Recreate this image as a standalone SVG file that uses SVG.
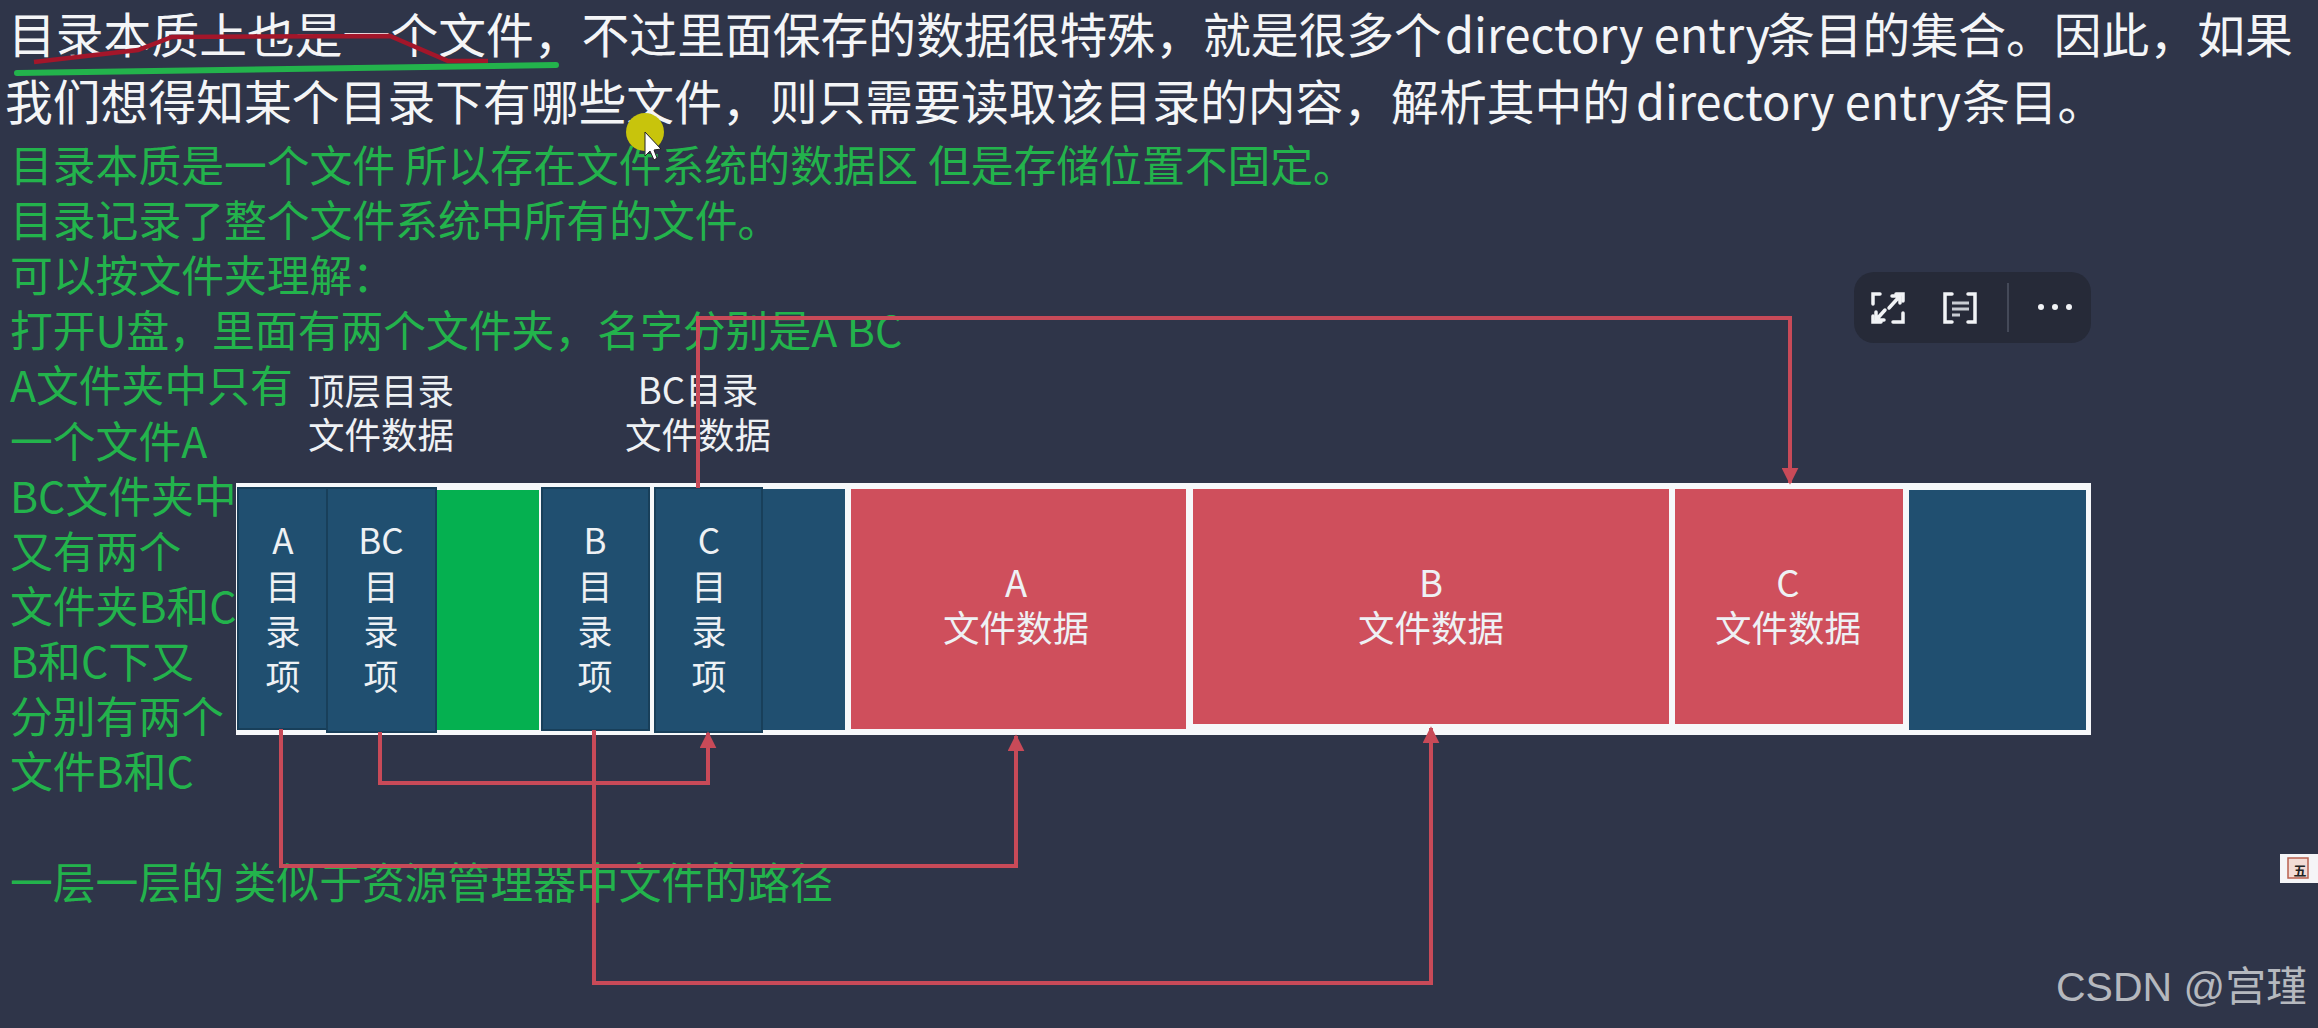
<svg xmlns="http://www.w3.org/2000/svg" width="2318" height="1028" viewBox="0 0 2318 1028">
<style>
text{font-family:"Noto Sans CJK SC","Noto Sans",sans-serif}
.h{fill:#f4f5f7;font-size:47.8px}
.g{fill:#23b34c;font-size:42.8px}
.w{fill:#eef1f4;font-size:36.5px;text-anchor:middle}
.n{fill:#eef1f4;font-size:35px;text-anchor:middle}
.dir{fill:#204f70;stroke:#183f5a;stroke-width:2}
.blue{fill:#204f70}
.red{fill:#cf4f5c}
.c{fill:none;stroke:#c84a58;stroke-width:4}
.tb{fill:none;stroke:#f1f3f6;stroke-width:3.5;stroke-linecap:round}
</style>
<defs>
<marker id="ah" viewBox="0 0 10 10" refX="9" refY="5" markerWidth="17" markerHeight="17" markerUnits="userSpaceOnUse" orient="auto"><path d="M0 0L10 5L0 10Z" fill="#c84a58"/></marker>
</defs>
<rect width="2318" height="1028" fill="#2f3549"/>
<g id="heading">
<text class="h" x="8" y="53">目录本质上也是一个文件，不过里面保存的数据很特殊，就是很多个</text>
<text class="h" x="1445" y="53" textLength="325" lengthAdjust="spacingAndGlyphs">directory entry</text>
<text class="h" x="1767" y="53">条目的集合。因此，如果</text>
<text class="h" x="5" y="120">我们想得知某个目录下有哪些文件，则只需要读取该目录的内容，解析其中的</text>
<text class="h" x="1636" y="120" textLength="325" lengthAdjust="spacingAndGlyphs">directory entry</text>
<text class="h" x="1962" y="120">条目。</text>
</g>
<path d="M34 62L138 50L172 37L390 36L448 61L488 61" fill="none" stroke="#a3162a" stroke-width="4.5"/>
<path d="M17 73L556 65" fill="none" stroke="#23b34c" stroke-width="6" stroke-linecap="round"/>
<g id="green-notes">
<text class="g" x="10" y="182">目录本质是一个文件 所以存在文件系统的数据区 但是存储位置不固定。</text>
<text class="g" x="10" y="237">目录记录了整个文件系统中所有的文件。</text>
<text class="g" x="10" y="292">可以按文件夹理解：</text>
<text class="g" x="10" y="347">打开U盘，里面有两个文件夹，名字分别是A BC</text>
<text class="g" x="10" y="402">A文件夹中只有</text>
<text class="g" x="10" y="458">一个文件A</text>
<text class="g" x="10" y="513">BC文件夹中</text>
<text class="g" x="10" y="568">又有两个</text>
<text class="g" x="10" y="623">文件夹B和C</text>
<text class="g" x="10" y="678">B和C下又</text>
<text class="g" x="10" y="733">分别有两个</text>
<text class="g" x="10" y="788">文件B和C</text>
<text class="g" x="10" y="899">一层一层的 类似于资源管理器中文件的路径</text>
</g>
<g id="label-top"><text class="w" x="381" y="405">顶层目录</text><text class="w" x="381" y="449">文件数据</text></g>
<g id="label-bc"><text class="w" x="698" y="404">BC目录</text><text class="w" x="698" y="449">文件数据</text></g>
<rect id="bar" x="236" y="483" width="1855" height="252" fill="#f6f8fa"/>
<g id="cell-blue-1"><rect class="blue" x="762" y="489" width="83" height="241"/></g>
<g id="cell-green"><rect x="436" y="490" width="103" height="240" fill="#05b050"/></g>
<g id="dir-a"><rect class="dir" x="238" y="488" width="89" height="241"/><text class="n" x="283" y="554">A</text><text class="n" x="283" y="600">目</text><text class="n" x="283" y="645">录</text><text class="n" x="283" y="690">项</text></g>
<g id="dir-bc"><rect class="dir" x="327" y="488" width="109" height="244"/><text class="n" x="381" y="554">BC</text><text class="n" x="381" y="600">目</text><text class="n" x="381" y="645">录</text><text class="n" x="381" y="690">项</text></g>
<g id="dir-b"><rect class="dir" x="542" y="488" width="107" height="242"/><text class="n" x="595" y="554">B</text><text class="n" x="595" y="600">目</text><text class="n" x="595" y="645">录</text><text class="n" x="595" y="690">项</text></g>
<g id="dir-c"><rect class="dir" x="655" y="488" width="107" height="244"/><text class="n" x="709" y="554">C</text><text class="n" x="709" y="600">目</text><text class="n" x="709" y="645">录</text><text class="n" x="709" y="690">项</text></g>
<g id="data-a"><rect class="red" x="851" y="489" width="335" height="240"/><text class="w" x="1016" y="597">A</text><text class="w" x="1016" y="642">文件数据</text></g>
<g id="data-b"><rect class="red" x="1193" y="489" width="476" height="235"/><text class="w" x="1431" y="597">B</text><text class="w" x="1431" y="642">文件数据</text></g>
<g id="data-c"><rect class="red" x="1675" y="489" width="228" height="235"/><text class="w" x="1788" y="597">C</text><text class="w" x="1788" y="642">文件数据</text></g>
<g id="cell-blue-2"><rect class="blue" x="1909" y="490" width="177" height="240"/></g>
<g id="connectors">
<path class="c" d="M698 488V318H1790V483" marker-end="url(#ah)"/>
<path class="c" d="M281 729V866H1016V736" marker-end="url(#ah)"/>
<path class="c" d="M380 732V783H708V733" marker-end="url(#ah)"/>
<path class="c" d="M594 730V983H1431V728" marker-end="url(#ah)"/>
</g>
<g id="toolbar">
<rect x="1854" y="272" width="237" height="71" rx="20" fill="#262a38"/>
<path class="tb" d="M1880 294H1873V304M1896 294H1903V301M1903 313V322H1893M1873 316V322H1881"/>
<path class="tb" d="M1889 308L1899 297M1892 296H1900V303M1885 310L1876 320M1876 312V320H1884" stroke-width="2.5"/>
<path class="tb" d="M1952 294H1945V322H1952M1968 294H1975V322H1968"/>
<path d="M1952 303H1969M1952 309H1969M1952 315H1960" fill="none" stroke="#c8ccd2" stroke-width="3"/>
<path d="M2008 283V332" stroke="#444958" stroke-width="2"/>
<circle cx="2041" cy="307" r="3" fill="#f1f3f6"/><circle cx="2055" cy="307" r="3" fill="#f1f3f6"/><circle cx="2069" cy="307" r="3" fill="#f1f3f6"/>
</g>
<ellipse cx="645" cy="132" rx="19" ry="19" fill="#c8c40c"/>
<path d="M645 132V156L650 151L654 160L657 158L654 150L661 149Z" fill="#fff" stroke="#222" stroke-width="1"/>
<g id="calendar-icon">
<rect x="2280" y="854" width="38" height="29" fill="#f5f5f7"/>
<rect x="2288" y="858" width="20" height="20" fill="#f2dcd6" stroke="#b8604f" stroke-width="1.5"/>
<text x="2300" y="875" font-size="13" fill="#222" text-anchor="middle" style="font-family:'Noto Sans CJK SC',serif;font-weight:700">五</text>
</g>
<text id="watermark" x="2056" y="1001" font-size="41" fill="#b5b8be" style="font-family:'Liberation Sans','Noto Sans CJK SC',sans-serif">CSDN @宫瑾</text>
</svg>
